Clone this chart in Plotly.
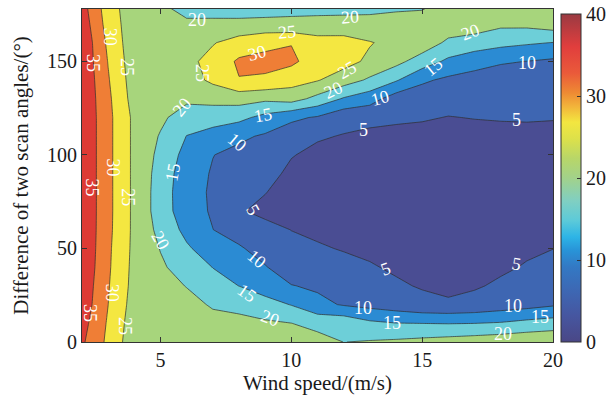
import numpy as np
import plotly.graph_objects as go

# Wind speed (m/s) grid and scan-angle difference (deg) grid
wind_speed = list(range(2, 21))
angle_diff = list(range(0, 181, 10))

# Error values, one list per wind speed (bottom -> top in angle)
err_x2 = [35.8, 36.9, 38.1, 38.6, 39.2, 39.5, 39.5, 39.5, 39.5, 39.5, 39.5, 39.5, 39.5, 39.4, 39.3, 39.0, 39.0, 38.0, 36.9]
err_x3 = [28.9, 29.4, 30.02, 30.35, 30.7, 30.9, 31.2, 31.3, 31.3, 31.3, 31.3, 31.3, 31.3, 31.0, 30.4, 29.8, 29.0, 28.0, 27.3]
err_x4 = [21.8, 22.3, 22.9, 23.4, 23.6, 23.8, 23.9, 23.9, 23.9, 23.9, 23.9, 23.9, 23.9, 23.0, 22.5, 22.1, 21.8, 21.9, 21.8]
err_x5 = [22.0, 21.9, 21.6, 21.1, 20.7, 19.8, 18.6, 17.7, 17.7, 18.0, 18.7, 19.6, 21.0, 21.8, 22.2, 22.5, 22.5, 21.7, 20.6]
err_x6 = [22.0, 21.6, 20.9, 19.9, 17.9, 15.7, 13.6, 12.0, 11.8, 12.2, 13.3, 14.9, 17.5, 21.0, 22.8, 23.8, 23.0, 21.0, 17.7]
err_x7 = [21.9, 20.9, 19.7, 17.0, 14.9, 12.3, 10.05, 9.5, 9.4, 9.6, 10.1, 13.0, 17.2, 21.5, 26.0, 26.5, 24.7, 21.0, 17.7]
err_x8 = [21.8, 20.8, 19.2, 14.95, 12.6, 10.6, 7.8, 5.3, 5.8, 7.0, 8.7, 10.9, 16.3, 22.0, 29.8, 30.8, 26.8, 21.8, 15.8]
err_x9 = [21.6, 20.7, 17.0, 12.5, 10.3, 7.9, 6.0, 4.2, 5.1, 6.3, 7.6, 9.4, 13.5, 21.0, 29.3, 31.3, 28.8, 21.5, 17.2]
err_x10 = [21.6, 20.05, 14.8, 10.2, 7.2, 5.9, 4.95, 3.9, 3.7, 4.2, 5.2, 7.2, 11.0, 22.0, 27.0, 31.0, 29.8, 21.0, 18.5]
err_x11 = [21.9, 18.4, 11.4, 9.2, 7.2, 5.5, 4.1, 3.2, 2.9, 3.2, 4.1, 5.4, 9.5, 18.5, 25.3, 27.5, 27.0, 21.6, 18.0]
err_x12 = [19.95, 18.6, 9.55, 8.0, 6.4, 4.7, 3.6, 2.8, 2.5, 2.6, 3.4, 4.8, 6.3, 14.5, 22.36, 26.8, 26.5, 22.5, 17.2]
err_x13 = [20.35, 16.0, 8.5, 7.0, 5.3, 4.3, 3.3, 2.6, 2.3, 2.3, 2.8, 4.2, 6.0, 12.1, 19.2, 24.0, 25.3, 21.2, 18.8]
err_x14 = [20.8, 15.1, 7.4, 5.5, 4.5, 3.6, 2.9, 2.4, 2.2, 2.2, 2.6, 4.0, 5.6, 7.5, 15.5, 21.5, 23.5, 22.0, 18.9]
err_x15 = [21.4, 14.95, 6.1, 4.7, 3.8, 3.2, 2.7, 2.3, 2.1, 2.1, 2.5, 4.0, 5.3, 7.2, 10.8, 17.6, 23.0, 22.2, 19.2]
err_x16 = [22.0, 14.8, 5.7, 3.9, 3.0, 2.6, 2.3, 2.1, 2.0, 2.0, 2.3, 3.5, 4.9, 6.2, 9.0, 14.0, 19.0, 23.0, 21.5]
err_x17 = [22.6, 14.95, 6.3, 4.6, 3.5, 2.9, 2.5, 2.3, 2.2, 2.2, 2.6, 4.0, 5.1, 6.6, 8.8, 11.2, 18.3, 22.0, 22.3]
err_x18 = [23.2, 15.4, 7.4, 5.6, 4.4, 3.5, 2.9, 2.6, 2.5, 2.5, 2.9, 4.2, 5.2, 6.6, 8.0, 10.4, 16.5, 21.0, 22.5]
err_x19 = [23.8, 16.5, 8.2, 6.5, 5.3, 4.4, 3.7, 3.3, 3.1, 3.1, 3.5, 4.4, 5.2, 6.4, 7.8, 9.95, 15.6, 21.2, 22.6]
err_x20 = [24.2, 17.3, 9.4, 7.6, 6.2, 4.95, 4.2, 3.7, 3.5, 3.5, 3.9, 4.5, 5.1, 6.4, 7.7, 9.2, 14.9, 22.6, 22.8]

columns = [err_x2, err_x3, err_x4, err_x5, err_x6, err_x7, err_x8, err_x9, err_x10,
           err_x11, err_x12, err_x13, err_x14, err_x15, err_x16, err_x17, err_x18,
           err_x19, err_x20]
z = np.array(columns).T

x_ticks = [5, 10, 15, 20]
y_ticks = [0, 50, 100, 150]
cb_ticks = [0, 10, 20, 30, 40]

# Contour level labels as shown in the figure: (text, speed, angle, rotation)
label_text = ['35', '35', '35', '30', '30', '30', '25', '25', '25',
              '20', '25', '30', '25', '20', '15', '10', '15',
              '20', '20', '15', '10', '25', '20', '10', '5', '5',
              '5', '20', '10', '15', '20', '5', '5', '10', '15', '10', '15', '20']
label_x = [2.42, 2.38, 2.31, 3.07, 3.18, 3.15, 3.72, 3.76, 3.64,
           6.39, 9.83, 8.69, 6.59, 5.82, 8.92, 7.92, 5.48,
           12.24, 16.83, 15.41, 19.0, 12.13, 11.6, 13.39, 12.74, 18.62,
           8.53, 4.98, 8.69, 8.3, 9.18, 13.58, 18.62, 12.74, 13.85, 18.47, 19.5, 18.09]
label_y = [149.1, 82.6, 15.5, 163.2, 93.4, 26.3, 147.0, 77.3, 8.6,
           172.2, 165.7, 154.4, 143.7, 125.5, 121.2, 106.8, 90.7,
           173.5, 165.9, 147.2, 149.3, 145.5, 134.8, 130.5, 113.3, 118.7,
           70.4, 54.3, 44.6, 26.3, 12.9, 39.2, 41.9, 18.2, 10.2, 19.3, 13.4, 4.3]
label_rot = [90, 90, 90, 90, 90, 90, 90, 90, 90,
             0, -5, -15, 90, -50, -10, 40, -80,
             -5, -20, -40, 0, -30, -25, -15, 0, 0,
             60, 60, 40, 35, 20, -20, 10, 0, 0, 0, 0, 0]

band_colors = ['#4a4d93', '#3e66b2', '#2b8bd3', '#6dcfd8',
               '#a7d57c', '#f4e741', '#ef7e36', '#dd3b34']
fill_scale = []
for i, c in enumerate(band_colors):
    fill_scale.append([i / 8, c])
    fill_scale.append([(i + 1) / 8, c])

cb_scale = [
    [0.0, '#4a4786'], [0.08, '#4656a0'], [0.15, '#3e66b2'], [0.23, '#3379c4'],
    [0.28, '#2894d8'], [0.32, '#2db4e6'], [0.37, '#5ccad9'], [0.43, '#80cfc2'],
    [0.5, '#a2d28a'], [0.56, '#b8d668'], [0.62, '#dde14a'], [0.67, '#f3e640'],
    [0.72, '#f2b23a'], [0.76, '#ee8a33'], [0.82, '#ea5a3a'], [0.9, '#e13e3d'],
    [1.0, '#9a3a42']]

font_family = 'Liberation Serif, Times New Roman, serif'

fig = go.Figure()
fig.add_trace(go.Contour(
    x=wind_speed, y=angle_diff, z=z,
    colorscale=fill_scale, zmin=0, zmax=40, showscale=False,
    contours=dict(start=0, end=40, size=5, coloring='fill', showlabels=False),
    line=dict(color='#2e2e2e', width=0.7, smoothing=0),
    hoverinfo='skip'))

fig.add_trace(go.Scatter(
    x=[10], y=[90], mode='markers', hoverinfo='skip', showlegend=False,
    marker=dict(size=1, opacity=0, color=[0], cmin=0, cmax=40, colorscale=cb_scale,
                showscale=True,
                colorbar=dict(thickness=20, thicknessmode='pixels', len=0.985, lenmode='fraction',
                              x=1.0, xanchor='left', xpad=8, y=0, yanchor='bottom', ypad=0,
                              outlinewidth=1, outlinecolor='#333333',
                              tickmode='array', tickvals=cb_ticks, ticktext=[str(v) for v in cb_ticks],
                              ticks='inside', ticklen=4, tickcolor='#333333',
                              ticklabeloverflow='allow',
                              tickfont=dict(family=font_family, size=20, color='#1a1a1a')))))

for t, lx, ly, r in zip(label_text, label_x, label_y, label_rot):
    fig.add_annotation(x=lx, y=ly, xref='x', yref='y', text=t, showarrow=False,
                       textangle=r, font=dict(family=font_family, size=18, color='white'))

axis_common = dict(showline=True, mirror='ticks', linecolor='#333333', linewidth=1,
                   ticks='inside', ticklen=5, tickcolor='#333333', showgrid=False,
                   zeroline=False, tickfont=dict(family=font_family, size=20, color='#1a1a1a'))

fig.update_layout(
    width=613, height=396,
    margin=dict(l=82, r=60, t=9, b=54, autoexpand=False),
    paper_bgcolor='white', plot_bgcolor='white',
    font=dict(family=font_family, color='#1a1a1a'),
    xaxis=dict(range=[2, 20], tickvals=x_ticks,
               title=dict(text='Wind speed/(m/s)', font=dict(family=font_family, size=21), standoff=2),
               **axis_common),
    yaxis=dict(range=[0, 178], tickvals=y_ticks,
               title=dict(text='Difference of two scan angles/(°)', font=dict(family=font_family, size=21), standoff=12),
               **axis_common),
)

fig.write_html('out.html', config={'displayModeBar': False},
               post_script="document.body.style.margin='0';document.body.style.overflow='hidden';")
